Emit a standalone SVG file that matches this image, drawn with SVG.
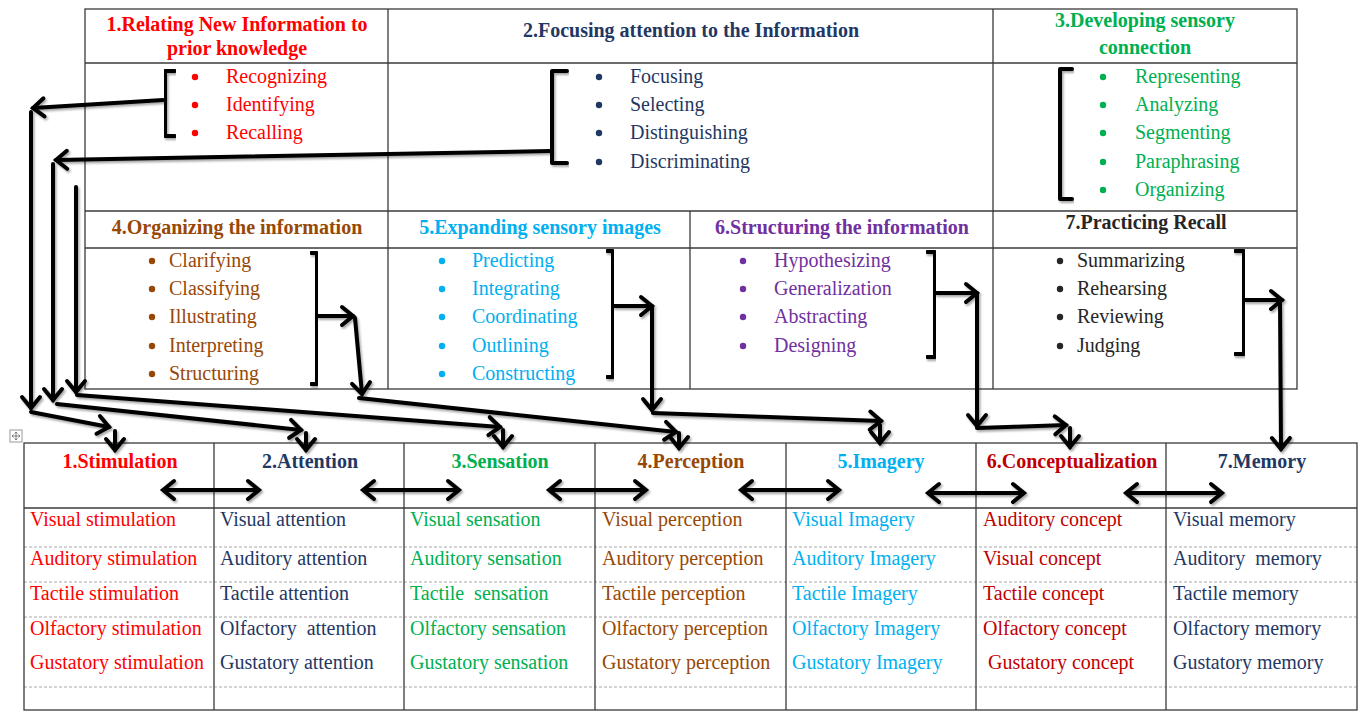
<svg xmlns="http://www.w3.org/2000/svg" width="1367" height="711" viewBox="0 0 1367 711">
<style>
text{font-family:"Liberation Serif","Times New Roman",serif;font-size:20px;white-space:pre}
.b{font-weight:bold}
.m{text-anchor:middle}
.red{fill:#FF0000}.navy{fill:#1F3864}.green{fill:#00B050}.brown{fill:#984806}.cyan{fill:#00B0F0}.purple{fill:#7030A0}.dred{fill:#C00000}.blk{fill:#262626}
.grid{stroke:#3a3a3a;stroke-width:1.3;fill:none}
.dash{stroke:#a8a8a8;stroke-width:1;stroke-dasharray:3 2;fill:none}
.br{stroke:#000;stroke-width:4;fill:none;stroke-linejoin:round;stroke-linecap:round}
.c{stroke:#000;stroke-width:4;fill:none;stroke-linecap:round;marker-end:url(#ah)}
.d{stroke:#000;stroke-width:4;fill:none;marker-end:url(#ah);marker-start:url(#ah)}
</style>
<defs>
<marker id="ah" markerUnits="userSpaceOnUse" viewBox="-16 -12 18 24" refX="0" refY="0" markerWidth="18" markerHeight="24" orient="auto-start-reverse" overflow="visible">
<path d="M-11,-9 L0,0 L-11,9" fill="none" stroke="#000" stroke-width="4" stroke-linecap="round"/>
</marker>
<filter id="sh" x="-10%" y="-10%" width="120%" height="120%">
<feDropShadow dx="1.5" dy="2" stdDeviation="1.2" flood-color="#000" flood-opacity="0.35"/>
</filter>
</defs>
<rect width="1367" height="711" fill="#fff"/>

<!-- top table grid -->
<g id="top-grid">
<rect class="grid" x="85" y="9" width="1212" height="380"/>
<line class="grid" x1="85" y1="63" x2="1297" y2="63"/>
<line class="grid" x1="85" y1="211" x2="1297" y2="211"/>
<line class="grid" x1="85" y1="248" x2="1297" y2="248"/>
<line class="grid" x1="388" y1="9" x2="388" y2="389"/>
<line class="grid" x1="993" y1="9" x2="993" y2="389"/>
<line class="grid" x1="690" y1="211" x2="690" y2="389"/>
</g>

<g id="cell1">
<text class="b m red" x="237" y="31">1.Relating New Information to</text>
<text class="b m red" x="237" y="55">prior knowledge</text>
<g class="red"><circle cx="195" cy="77" r="3.2"/><circle cx="195" cy="105" r="3.2"/><circle cx="195" cy="133" r="3.2"/></g>
<text class="red" x="226" y="83">Recognizing</text>
<text class="red" x="226" y="111">Identifying</text>
<text class="red" x="226" y="139">Recalling</text>
<path class="br" filter="url(#sh)" d="M175,71 H165 V136 H175"/>
</g>

<g id="cell2">
<text class="b m navy" x="691" y="37">2.Focusing attention to the Information</text>
<g class="navy"><circle cx="599" cy="77" r="3.2"/><circle cx="599" cy="105" r="3.2"/><circle cx="599" cy="133" r="3.2"/><circle cx="599" cy="162" r="3.2"/></g>
<text class="navy" x="630" y="83">Focusing</text>
<text class="navy" x="630" y="111">Selecting</text>
<text class="navy" x="630" y="139">Distinguishing</text>
<text class="navy" x="630" y="168">Discriminating</text>
<path class="br" filter="url(#sh)" d="M567,71 H552 V163 H567"/>
</g>

<g id="cell3">
<text class="b m green" x="1145" y="27">3.Developing sensory</text>
<text class="b m green" x="1145" y="54">connection</text>
<g class="green"><circle cx="1103" cy="77" r="3.2"/><circle cx="1103" cy="105" r="3.2"/><circle cx="1103" cy="133" r="3.2"/><circle cx="1103" cy="162" r="3.2"/><circle cx="1103" cy="190" r="3.2"/></g>
<text class="green" x="1135" y="83">Representing</text>
<text class="green" x="1135" y="111">Analyzing</text>
<text class="green" x="1135" y="139">Segmenting</text>
<text class="green" x="1135" y="168">Paraphrasing</text>
<text class="green" x="1135" y="196">Organizing</text>
<path class="br" filter="url(#sh)" d="M1072,69 H1060 V199 H1072"/>
</g>

<g id="cell4">
<text class="b m brown" x="237" y="234">4.Organizing the information</text>
<g class="brown"><circle cx="152" cy="261" r="3.2"/><circle cx="152" cy="289" r="3.2"/><circle cx="152" cy="317" r="3.2"/><circle cx="152" cy="346" r="3.2"/><circle cx="152" cy="374" r="3.2"/></g>
<text class="brown" x="169" y="267">Clarifying</text>
<text class="brown" x="169" y="295">Classifying</text>
<text class="brown" x="169" y="323">Illustrating</text>
<text class="brown" x="169" y="352">Interpreting</text>
<text class="brown" x="169" y="380">Structuring</text>
<path class="br" filter="url(#sh)" d="M311,253 H317 V384 H311"/>
</g>

<g id="cell5">
<text class="b m cyan" x="540" y="234">5.Expanding sensory images</text>
<g class="cyan"><circle cx="442" cy="261" r="3.2"/><circle cx="442" cy="289" r="3.2"/><circle cx="442" cy="317" r="3.2"/><circle cx="442" cy="346" r="3.2"/><circle cx="442" cy="374" r="3.2"/></g>
<text class="cyan" x="472" y="267">Predicting</text>
<text class="cyan" x="472" y="295">Integrating</text>
<text class="cyan" x="472" y="323">Coordinating</text>
<text class="cyan" x="472" y="352">Outlining</text>
<text class="cyan" x="472" y="380">Constructing</text>
<path class="br" filter="url(#sh)" d="M607,251 H613 V377 H607"/>
</g>

<g id="cell6">
<text class="b m purple" x="842" y="234">6.Structuring the information</text>
<g class="purple"><circle cx="743" cy="261" r="3.2"/><circle cx="743" cy="289" r="3.2"/><circle cx="743" cy="317" r="3.2"/><circle cx="743" cy="346" r="3.2"/></g>
<text class="purple" x="774" y="267">Hypothesizing</text>
<text class="purple" x="774" y="295">Generalization</text>
<text class="purple" x="774" y="323">Abstracting</text>
<text class="purple" x="774" y="352">Designing</text>
<path class="br" filter="url(#sh)" d="M927,252 H935 V357 H927"/>
</g>

<g id="cell7">
<text class="b m blk" x="1146" y="229">7.Practicing Recall</text>
<g class="blk"><circle cx="1060" cy="261" r="3.2"/><circle cx="1060" cy="289" r="3.2"/><circle cx="1060" cy="317" r="3.2"/><circle cx="1060" cy="346" r="3.2"/></g>
<text class="blk" x="1077" y="267">Summarizing</text>
<text class="blk" x="1077" y="295">Rehearsing</text>
<text class="blk" x="1077" y="323">Reviewing</text>
<text class="blk" x="1077" y="352">Judging</text>
<path class="br" filter="url(#sh)" d="M1235,251 H1244 V354 H1235"/>
</g>

<!-- table move handle -->
<g id="handle">
<rect x="10" y="430" width="12" height="12" fill="#fff" stroke="#9a9a9a" stroke-width="1"/>
<path d="M16,432 V440 M12,436 H20 M14.5,433.5 L16,432 L17.5,433.5 M14.5,438.5 L16,440 L17.5,438.5 M13.5,434.5 L12,436 L13.5,437.5 M18.5,434.5 L20,436 L18.5,437.5" stroke="#666" stroke-width="0.8" fill="none"/>
</g>

<!-- bottom table grid -->
<g id="bottom-grid">
<line class="dash" x1="24" y1="547" x2="1357" y2="547"/>
<line class="dash" x1="24" y1="582" x2="1357" y2="582"/>
<line class="dash" x1="24" y1="617" x2="1357" y2="617"/>
<line class="dash" x1="24" y1="687" x2="1357" y2="687"/>
<rect class="grid" x="24" y="443" width="1333" height="267"/>
<line class="grid" x1="24" y1="508" x2="1357" y2="508"/>
<line class="grid" x1="214" y1="443" x2="214" y2="710"/>
<line class="grid" x1="404" y1="443" x2="404" y2="710"/>
<line class="grid" x1="595" y1="443" x2="595" y2="710"/>
<line class="grid" x1="786" y1="443" x2="786" y2="710"/>
<line class="grid" x1="976" y1="443" x2="976" y2="710"/>
<line class="grid" x1="1166" y1="443" x2="1166" y2="710"/>
</g>

<g id="stage1">
<text class="b m red" x="120" y="468">1.Stimulation</text>
<text class="red" x="30" y="526">Visual stimulation</text>
<text class="red" x="30" y="565">Auditory stimulation</text>
<text class="red" x="30" y="600">Tactile stimulation</text>
<text class="red" x="30" y="635">Olfactory stimulation</text>
<text class="red" x="30" y="669">Gustatory stimulation</text>
</g>
<g id="stage2">
<text class="b m navy" x="310" y="468">2.Attention</text>
<text class="navy" x="220" y="526">Visual attention</text>
<text class="navy" x="220" y="565">Auditory attention</text>
<text class="navy" x="220" y="600">Tactile attention</text>
<text class="navy" x="220" y="635">Olfactory  attention</text>
<text class="navy" x="220" y="669">Gustatory attention</text>
</g>
<g id="stage3">
<text class="b m green" x="500" y="468">3.Sensation</text>
<text class="green" x="410" y="526">Visual sensation</text>
<text class="green" x="410" y="565">Auditory sensation</text>
<text class="green" x="410" y="600">Tactile  sensation</text>
<text class="green" x="410" y="635">Olfactory sensation</text>
<text class="green" x="410" y="669">Gustatory sensation</text>
</g>
<g id="stage4">
<text class="b m brown" x="691" y="468">4.Perception</text>
<text class="brown" x="602" y="526">Visual perception</text>
<text class="brown" x="602" y="565">Auditory perception</text>
<text class="brown" x="602" y="600">Tactile perception</text>
<text class="brown" x="602" y="635">Olfactory perception</text>
<text class="brown" x="602" y="669">Gustatory perception</text>
</g>
<g id="stage5">
<text class="b m cyan" x="881" y="468">5.Imagery</text>
<text class="cyan" x="792" y="526">Visual Imagery</text>
<text class="cyan" x="792" y="565">Auditory Imagery</text>
<text class="cyan" x="792" y="600">Tactile Imagery</text>
<text class="cyan" x="792" y="635">Olfactory Imagery</text>
<text class="cyan" x="792" y="669">Gustatory Imagery</text>
</g>
<g id="stage6">
<text class="b m dred" x="1072" y="468">6.Conceptualization</text>
<text class="dred" x="983" y="526">Auditory concept</text>
<text class="dred" x="983" y="565">Visual concept</text>
<text class="dred" x="983" y="600">Tactile concept</text>
<text class="dred" x="983" y="635">Olfactory concept</text>
<text class="dred" x="988" y="669">Gustatory concept</text>
</g>
<g id="stage7">
<text class="b m navy" x="1262" y="468">7.Memory</text>
<text class="navy" x="1173" y="526">Visual memory</text>
<text class="navy" x="1173" y="565">Auditory  memory</text>
<text class="navy" x="1173" y="600">Tactile memory</text>
<text class="navy" x="1173" y="635">Olfactory memory</text>
<text class="navy" x="1173" y="669">Gustatory memory</text>
</g>

<g id="connectors" filter="url(#sh)">
<!-- from cell 1 -->
<line class="c" x1="163" y1="100" x2="33" y2="108"/>
<line class="c" x1="31" y1="112" x2="31" y2="408"/>
<line class="c" x1="31" y1="412" x2="109" y2="427"/>
<line class="c" x1="115" y1="431" x2="115" y2="450"/>
<!-- from cell 2 -->
<line class="c" x1="550" y1="151" x2="56" y2="160"/>
<line class="c" x1="53" y1="164" x2="53" y2="400"/>
<line class="c" x1="57" y1="404" x2="301" y2="430"/>
<line class="c" x1="306" y1="433" x2="306" y2="450"/>
<!-- third path -->
<line class="c" x1="76" y1="187" x2="76" y2="392"/>
<line class="c" x1="77" y1="395" x2="500" y2="427"/>
<line class="c" x1="503" y1="430" x2="503" y2="447"/>
<!-- from cell 4 -->
<line class="c" x1="318" y1="316" x2="353" y2="316"/>
<line class="c" x1="355" y1="318" x2="362" y2="394"/>
<line class="c" x1="359" y1="398" x2="676" y2="432"/>
<line class="c" x1="679" y1="433" x2="679" y2="448"/>
<!-- from cell 5 -->
<line class="c" x1="614" y1="306" x2="652" y2="306"/>
<line class="c" x1="652" y1="308" x2="652" y2="410"/>
<line class="c" x1="653" y1="413" x2="881" y2="421"/>
<line class="c" x1="880" y1="425" x2="880" y2="443"/>
<!-- from cell 6 -->
<line class="c" x1="936" y1="293" x2="977" y2="293"/>
<line class="c" x1="977" y1="295" x2="977" y2="426"/>
<line class="c" x1="977" y1="428" x2="1066" y2="425"/>
<line class="c" x1="1070" y1="428" x2="1070" y2="447"/>
<!-- from cell 7 -->
<line class="c" x1="1245" y1="300" x2="1282" y2="300"/>
<line class="c" x1="1280" y1="302" x2="1281" y2="449"/>
<!-- double arrows between stages -->
<line class="d" x1="163" y1="490" x2="259" y2="490"/>
<line class="d" x1="363" y1="490" x2="459" y2="490"/>
<line class="d" x1="549" y1="490" x2="646" y2="490"/>
<line class="d" x1="741" y1="490" x2="839" y2="490"/>
<line class="d" x1="928" y1="493" x2="1024" y2="493"/>
<line class="d" x1="1126" y1="493" x2="1222" y2="493"/>
</g>
</svg>
